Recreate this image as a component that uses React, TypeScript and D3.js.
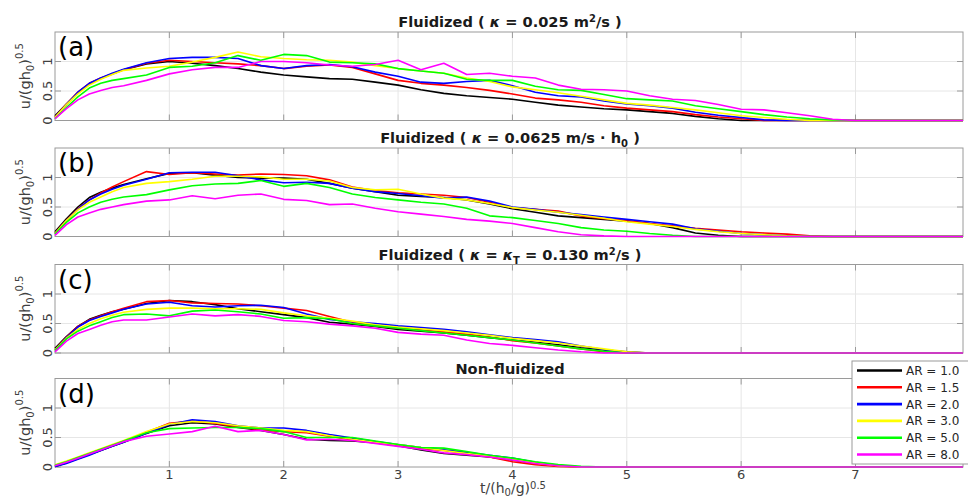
import React from 'react';
import * as d3 from 'd3';

// shared time grid, t/(h0/g)^0.5
const T = [0, 0.1, 0.2, 0.3, 0.4, 0.5, 0.6, 0.8, 1.0, 1.2, 1.4, 1.6, 1.8, 2.0, 2.2, 2.4, 2.6, 2.8, 3.0, 3.2, 3.4, 3.6, 3.8, 4.0, 4.2, 4.4, 4.6, 4.8, 5.0, 5.2, 5.4, 5.6, 5.8, 6.0, 6.2, 6.4, 6.6, 6.8, 7.0, 7.94];

// (a) Fluidized kappa = 0.025
const aAR10 = [0.08, 0.28, 0.47, 0.62, 0.71, 0.79, 0.86, 0.96, 1.0, 0.97, 0.93, 0.88, 0.82, 0.77, 0.74, 0.71, 0.70, 0.65, 0.60, 0.52, 0.46, 0.42, 0.39, 0.36, 0.31, 0.26, 0.23, 0.20, 0.18, 0.15, 0.12, 0.07, 0.03, 0, 0, 0, 0, 0, 0, 0];
const aAR15 = [0.06, 0.28, 0.48, 0.63, 0.72, 0.79, 0.86, 0.97, 1.02, 1.0, 0.98, 0.96, 0.93, 0.88, 0.92, 0.94, 0.9, 0.79, 0.68, 0.63, 0.6, 0.56, 0.51, 0.45, 0.38, 0.35, 0.31, 0.25, 0.21, 0.18, 0.15, 0.1, 0.06, 0.03, 0, 0, 0, 0, 0, 0];
const aAR20 = [0.05, 0.27, 0.48, 0.63, 0.72, 0.8, 0.87, 0.98, 1.05, 1.07, 1.07, 1.05, 0.93, 0.88, 0.93, 0.95, 0.91, 0.82, 0.75, 0.65, 0.63, 0.66, 0.68, 0.59, 0.48, 0.42, 0.40, 0.33, 0.28, 0.25, 0.21, 0.14, 0.09, 0.05, 0.01, 0, 0, 0, 0, 0];
const aAR30 = [0.05, 0.27, 0.45, 0.6, 0.7, 0.78, 0.85, 0.89, 0.92, 0.99, 1.07, 1.16, 1.08, 1.05, 1.03, 1.02, 0.99, 0.93, 0.88, 0.84, 0.8, 0.72, 0.66, 0.57, 0.52, 0.47, 0.41, 0.35, 0.29, 0.26, 0.22, 0.18, 0.13, 0.08, 0.05, 0.02, 0, 0, 0, 0];
const aAR50 = [0.03, 0.22, 0.4, 0.55, 0.63, 0.68, 0.71, 0.77, 0.9, 0.92, 0.98, 1.1, 1.02, 1.12, 1.1, 0.99, 0.98, 0.96, 0.88, 0.84, 0.8, 0.7, 0.68, 0.68, 0.58, 0.52, 0.51, 0.44, 0.37, 0.35, 0.33, 0.25, 0.2, 0.15, 0.1, 0.06, 0.03, 0.01, 0, 0];
const aAR80 = [0.03, 0.2, 0.35, 0.45, 0.51, 0.56, 0.59, 0.68, 0.79, 0.86, 0.9, 0.9, 1.0, 1.0, 0.98, 0.94, 0.92, 0.95, 1.02, 0.86, 0.97, 0.78, 0.8, 0.75, 0.72, 0.6, 0.53, 0.52, 0.5, 0.42, 0.36, 0.34, 0.27, 0.19, 0.18, 0.13, 0.08, 0.02, 0, 0];

// (b) Fluidized kappa = 0.0625 h0
const bAR10 = [0.08, 0.3, 0.5, 0.66, 0.75, 0.82, 0.88, 0.98, 1.07, 1.08, 1.04, 1.0, 0.99, 0.99, 0.97, 0.9, 0.82, 0.76, 0.7, 0.68, 0.66, 0.62, 0.55, 0.47, 0.41, 0.35, 0.32, 0.29, 0.26, 0.22, 0.15, 0.06, 0.02, 0, 0, 0, 0, 0, 0, 0];
const bAR15 = [0.06, 0.28, 0.47, 0.62, 0.74, 0.84, 0.93, 1.1, 1.05, 1.08, 1.06, 1.04, 1.06, 1.05, 1.03, 0.96, 0.84, 0.78, 0.74, 0.72, 0.7, 0.66, 0.58, 0.49, 0.46, 0.43, 0.35, 0.3, 0.27, 0.22, 0.18, 0.14, 0.11, 0.08, 0.06, 0.04, 0.01, 0, 0, 0];
const bAR20 = [0.05, 0.27, 0.46, 0.62, 0.72, 0.8, 0.87, 0.97, 1.08, 1.09, 1.09, 1.03, 0.96, 0.91, 0.92, 0.9, 0.82, 0.76, 0.73, 0.69, 0.65, 0.67, 0.6, 0.5, 0.46, 0.41, 0.37, 0.33, 0.29, 0.25, 0.21, 0.13, 0.09, 0.05, 0.03, 0.01, 0, 0, 0, 0];
const bAR30 = [0.05, 0.27, 0.45, 0.58, 0.67, 0.76, 0.83, 0.9, 0.93, 0.97, 1.02, 1.02, 1.01, 0.97, 0.97, 0.94, 0.83, 0.79, 0.8, 0.72, 0.65, 0.62, 0.56, 0.49, 0.45, 0.41, 0.36, 0.31, 0.25, 0.21, 0.17, 0.12, 0.08, 0.05, 0.03, 0.01, 0, 0, 0, 0];
const bAR50 = [0.04, 0.24, 0.4, 0.5, 0.58, 0.63, 0.67, 0.71, 0.79, 0.86, 0.89, 0.9, 0.95, 0.85, 0.9, 0.83, 0.72, 0.66, 0.62, 0.58, 0.55, 0.48, 0.35, 0.32, 0.27, 0.22, 0.15, 0.11, 0.09, 0.05, 0.02, 0, 0, 0, 0, 0, 0, 0, 0, 0];
const bAR80 = [0.02, 0.2, 0.33, 0.4, 0.46, 0.5, 0.54, 0.6, 0.62, 0.69, 0.64, 0.7, 0.72, 0.63, 0.61, 0.54, 0.55, 0.48, 0.42, 0.38, 0.34, 0.29, 0.26, 0.22, 0.15, 0.08, 0.03, 0.01, 0, 0, 0, 0, 0, 0, 0, 0, 0, 0, 0, 0];

// (c) Fluidized kappa = kappa_T = 0.130
const cAR10 = [0.08, 0.28, 0.45, 0.57, 0.64, 0.7, 0.74, 0.84, 0.89, 0.87, 0.82, 0.75, 0.7, 0.65, 0.6, 0.52, 0.49, 0.45, 0.40, 0.37, 0.34, 0.30, 0.26, 0.22, 0.18, 0.14, 0.09, 0.05, 0.02, 0, 0, 0, 0, 0, 0, 0, 0, 0, 0, 0];
const cAR15 = [0.06, 0.27, 0.45, 0.56, 0.63, 0.7, 0.76, 0.87, 0.89, 0.85, 0.84, 0.83, 0.8, 0.76, 0.72, 0.62, 0.52, 0.46, 0.42, 0.39, 0.36, 0.32, 0.27, 0.21, 0.17, 0.12, 0.07, 0.02, 0, 0, 0, 0, 0, 0, 0, 0, 0, 0, 0, 0];
const cAR20 = [0.05, 0.26, 0.44, 0.55, 0.62, 0.68, 0.74, 0.83, 0.86, 0.8, 0.78, 0.8, 0.81, 0.77, 0.66, 0.57, 0.53, 0.5, 0.46, 0.43, 0.4, 0.36, 0.31, 0.26, 0.23, 0.19, 0.12, 0.06, 0.01, 0, 0, 0, 0, 0, 0, 0, 0, 0, 0, 0];
const cAR30 = [0.05, 0.25, 0.4, 0.5, 0.58, 0.64, 0.69, 0.74, 0.76, 0.76, 0.75, 0.75, 0.74, 0.68, 0.63, 0.59, 0.54, 0.48, 0.44, 0.41, 0.38, 0.34, 0.3, 0.25, 0.21, 0.17, 0.12, 0.07, 0.02, 0, 0, 0, 0, 0, 0, 0, 0, 0, 0, 0];
const cAR50 = [0.04, 0.24, 0.37, 0.46, 0.53, 0.6, 0.65, 0.66, 0.63, 0.71, 0.73, 0.7, 0.66, 0.59, 0.6, 0.58, 0.5, 0.46, 0.42, 0.38, 0.34, 0.3, 0.26, 0.22, 0.17, 0.12, 0.07, 0.03, 0, 0, 0, 0, 0, 0, 0, 0, 0, 0, 0, 0];
const cAR80 = [0.02, 0.2, 0.33, 0.4, 0.47, 0.53, 0.56, 0.56, 0.61, 0.66, 0.63, 0.65, 0.62, 0.55, 0.53, 0.49, 0.46, 0.42, 0.35, 0.32, 0.3, 0.22, 0.16, 0.13, 0.09, 0.05, 0.02, 0, 0, 0, 0, 0, 0, 0, 0, 0, 0, 0, 0, 0];

// (d) Non-fluidized
const dAR10 = [0.01, 0.07, 0.14, 0.21, 0.28, 0.35, 0.42, 0.57, 0.7, 0.75, 0.73, 0.67, 0.62, 0.55, 0.47, 0.45, 0.44, 0.41, 0.36, 0.29, 0.23, 0.2, 0.17, 0.12, 0.06, 0.02, 0, 0, 0, 0, 0, 0, 0, 0, 0, 0, 0, 0, 0, 0];
const dAR15 = [0.02, 0.08, 0.15, 0.22, 0.29, 0.36, 0.43, 0.59, 0.74, 0.78, 0.74, 0.68, 0.63, 0.6, 0.58, 0.52, 0.46, 0.41, 0.36, 0.31, 0.28, 0.23, 0.17, 0.09, 0.04, 0.01, 0, 0, 0, 0, 0, 0, 0, 0, 0, 0, 0, 0, 0, 0];
const dAR20 = [0.01, 0.06, 0.13, 0.2, 0.28, 0.35, 0.42, 0.57, 0.72, 0.8, 0.77, 0.7, 0.66, 0.66, 0.62, 0.55, 0.49, 0.43, 0.38, 0.33, 0.29, 0.25, 0.2, 0.15, 0.08, 0.03, 0, 0, 0, 0, 0, 0, 0, 0, 0, 0, 0, 0, 0, 0];
const dAR30 = [0.04, 0.1, 0.17, 0.24, 0.31, 0.38, 0.45, 0.6, 0.73, 0.77, 0.75, 0.7, 0.66, 0.62, 0.6, 0.53, 0.47, 0.42, 0.38, 0.33, 0.28, 0.23, 0.19, 0.13, 0.07, 0.02, 0, 0, 0, 0, 0, 0, 0, 0, 0, 0, 0, 0, 0, 0];
const dAR50 = [0.03, 0.09, 0.16, 0.23, 0.3, 0.37, 0.44, 0.58, 0.65, 0.66, 0.67, 0.67, 0.65, 0.6, 0.5, 0.5, 0.5, 0.44, 0.38, 0.33, 0.32, 0.26, 0.2, 0.15, 0.09, 0.04, 0.01, 0, 0, 0, 0, 0, 0, 0, 0, 0, 0, 0, 0, 0];
const dAR80 = [0.02, 0.08, 0.15, 0.22, 0.29, 0.36, 0.43, 0.52, 0.56, 0.6, 0.69, 0.6, 0.62, 0.55, 0.46, 0.47, 0.45, 0.4, 0.35, 0.3, 0.24, 0.21, 0.17, 0.12, 0.06, 0.02, 0, 0, 0, 0, 0, 0, 0, 0, 0, 0, 0, 0, 0, 0];

const AR_LABELS = ['AR = 1.0', 'AR = 1.5', 'AR = 2.0', 'AR = 3.0', 'AR = 5.0', 'AR = 8.0'];
const AR_COLORS = ['#000000', '#ff0000', '#0000ff', '#ffff00', '#00ff00', '#ff00ff'];
const X_TICKS = [1, 2, 3, 4, 5, 6, 7];
const Y_TICKS = [0, 0.5, 1];
const PANEL_LETTERS = ['(a)', '(b)', '(c)', '(d)'];

const FONT = '"DejaVu Sans", sans-serif';
const W = 968, H = 499;
const left = 55, right = 963;
const tops = [32, 148, 264.5, 378.5];
const ph = 88.5;

const x = d3.scaleLinear().domain([0, 7.94]).range([left, right]);

const titles = [
    <>Fluidized ( <tspan fontStyle="italic">κ</tspan> = 0.025 m<tspan dy={-5} fontSize={10}>2</tspan><tspan dy={5}>/s )</tspan></>,
    <>Fluidized ( <tspan fontStyle="italic">κ</tspan> = 0.0625 m/s · h<tspan dy={4} fontSize={10}>0</tspan><tspan dy={-4}> )</tspan></>,
    <>Fluidized ( <tspan fontStyle="italic">κ</tspan> = <tspan fontStyle="italic">κ</tspan><tspan dy={4} fontSize={10}>T</tspan><tspan dy={-4}> = 0.130 m</tspan><tspan dy={-5} fontSize={10}>2</tspan><tspan dy={5}>/s )</tspan></>,
    <>Non-fluidized</>
];

const Panel = ({ top, series, letter, title, showX }) => {
    const y = d3.scaleLinear().domain([0, 1.5]).range([top + ph, top]);
    const line = d3.line<number>().x((_, i) => x(T[i])).y(d => y(d));
    return (
        <g>
            {X_TICKS.map(t => <line key={'gx' + t} x1={x(t)} x2={x(t)} y1={top} y2={top + ph} stroke="#e6e6e6" />)}
            {Y_TICKS.slice(1).map(v => <line key={'gy' + v} x1={left} x2={right} y1={y(v)} y2={y(v)} stroke="#e6e6e6" />)}
            <rect x={left} y={top} width={right - left} height={ph} fill="none" stroke="#9a9a9a" />
            {X_TICKS.map(t => (
                <g key={'tx' + t} stroke="#9a9a9a">
                    <line x1={x(t)} x2={x(t)} y1={top + ph} y2={top + ph - 6} />
                    <line x1={x(t)} x2={x(t)} y1={top} y2={top + 6} />
                </g>
            ))}
            {Y_TICKS.map(v => (
                <g key={'ty' + v} stroke="#9a9a9a">
                    <line x1={left} x2={left + 6} y1={y(v)} y2={y(v)} />
                    <line x1={right} x2={right - 6} y1={y(v)} y2={y(v)} />
                </g>
            ))}
            {Y_TICKS.map(v => (
                <text key={'yl' + v} transform={`translate(52,${y(v)}) rotate(-90)`} textAnchor="middle"
                    fontSize={13} fill="#404040">{v}</text>
            ))}
            <text transform={`translate(30,${top + ph / 2}) rotate(-90)`} textAnchor="middle" fontSize={14.5} fill="#404040">
                u/(gh<tspan dy={4} fontSize={10}>0</tspan><tspan dy={-4}>)</tspan><tspan dy={-7} fontSize={10}>0.5</tspan>
            </text>
            {showX && X_TICKS.map(t => (
                <text key={'xl' + t} x={x(t)} y={top + ph + 12} textAnchor="middle" fontSize={13} fill="#404040">{t}</text>
            ))}
            <text x={(left + right) / 2 + 1} y={top - 5} textAnchor="middle" fontWeight="bold" fontSize={14.6} fill="#1a1a1a">{title}</text>
            {series.map((s, i) => (
                <path key={'s' + i} d={line(s)} fill="none" stroke={AR_COLORS[i]} strokeWidth={1.6} strokeLinejoin="round" />
            ))}
            <text x={left + 3} y={top + 24} fontSize={26} fill="#000">{letter}</text>
        </g>
    );
};

const Legend = () => {
    const lx = 852, ly = 361, rowH = 16.8;
    return (
        <g>
            <rect x={lx} y={ly} width={W - lx + 2} height={103} fill="#fff" stroke="#9a9a9a" />
            {AR_LABELS.map((lab, i) => (
                <g key={lab}>
                    <line x1={lx + 5} x2={lx + 50} y1={ly + 9.5 + i * rowH} y2={ly + 9.5 + i * rowH} stroke={AR_COLORS[i]} strokeWidth={2.6} />
                    <text x={lx + 54} y={ly + 14 + i * rowH} fontSize={12} fill="#262626">{lab}</text>
                </g>
            ))}
        </g>
    );
};

const App = () => {
    const panels = [
        [aAR10, aAR15, aAR20, aAR30, aAR50, aAR80],
        [bAR10, bAR15, bAR20, bAR30, bAR50, bAR80],
        [cAR10, cAR15, cAR20, cAR30, cAR50, cAR80],
        [dAR10, dAR15, dAR20, dAR30, dAR50, dAR80]
    ];
    return (
        <svg width={W} height={H} style={{ position: 'absolute', left: 0, top: 0, background: '#fff' }} fontFamily={FONT}>
            <rect width={W} height={H} fill="#fff" />
            {panels.map((series, i) => (
                <Panel key={i} top={tops[i]} series={series} letter={PANEL_LETTERS[i]} title={titles[i]} showX={i === 3} />
            ))}
            <text x={(left + right) / 2 + 4} y={493} textAnchor="middle" fontSize={14} fill="#404040">
                t/(h<tspan dy={2.5} fontSize={10}>0</tspan><tspan dy={-2.5}>/g)</tspan><tspan dy={-4.5} fontSize={10}>0.5</tspan>
            </text>
            <Legend />
        </svg>
    );
};

export default App;
